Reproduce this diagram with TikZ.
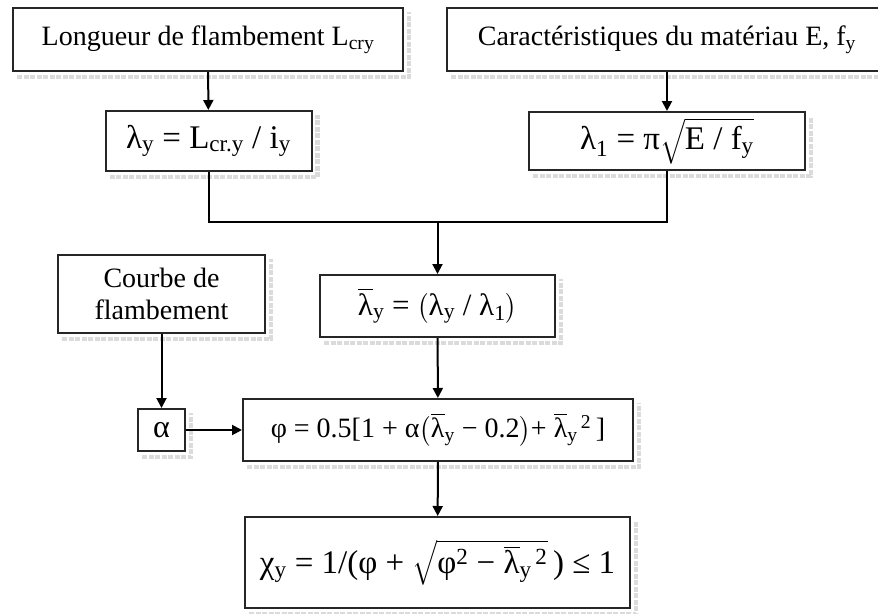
\documentclass[tikz,border=0pt]{standalone}
\usepackage{exscale}
\usepackage{fontspec}
\setmainfont{Liberation Serif}
\usetikzlibrary{arrows.meta}
\newcommand\lbar{$\overline{\mbox{λ}}$}
\newcommand\boxshade[1]{\draw[shadeband] ([xshift=5pt,yshift=-5pt]#1.south west) -- ([xshift=5pt,yshift=-5pt]#1.south east) -- ([xshift=5pt,yshift=-5pt]#1.north east);}

\begin{document}
\begin{tikzpicture}[x=1pt, y=-1pt,
	flowbox/.style={draw=black!85, line width=2pt, fill=white, inner sep=0pt, align=center, font=\fontsize{28}{32}\selectfont},
	shadeband/.style={line width=4.5pt, color=black!14, dash pattern=on 5pt off 1.5pt},
	flowarrow/.style={line width=2pt, -{Triangle[length=10pt,width=10pt]}}]
			%%%%% START %%%%%
			\useasboundingbox (0, 0) rectangle (878, 613);
			
			\node[flowbox, minimum width=390pt, minimum height=63pt] (lcr) at (208, 39.5) {Longueur de flambement L\textsubscript{cry}};
			\node[flowbox, minimum width=440pt, minimum height=63pt] (mat) at (667, 39.5) {Caractéristiques du matériau E, f\textsubscript{y}};
			
			\node[flowbox, minimum width=206pt, minimum height=60pt, font=\fontsize{33}{37}\selectfont] (lamy) at (208.5, 141) {λ\textsubscript{y} = L\textsubscript{cr.y} / i\textsubscript{y}};
			\node[flowbox, minimum width=276pt, minimum height=58pt, font=\fontsize{33}{37}\selectfont] (lam1) at (667, 141) {λ\textsubscript{1} = π$\sqrt{\mbox{E / f\textsubscript{y}}\vphantom{\big(}}$};
			
			\node[flowbox, minimum width=235pt, minimum height=62pt, font=\fontsize{31}{35}\selectfont] (lamb) at (437.5, 306) {\lbar\textsubscript{y} = $\bigl(\mbox{λ\textsubscript{y} / λ\textsubscript{1}}\bigr)$};
			\node[flowbox, minimum width=207pt, minimum height=78pt] (courbe) at (161.5, 294) {Courbe de\\flambement};
			
			\node[flowbox, minimum width=47pt, minimum height=42pt, font=\fontsize{32}{36}\selectfont] (alpha) at (161.5, 430) {α};
			\node[flowbox, minimum width=390pt, minimum height=62pt, font=\fontsize{28}{32}\selectfont] (phi) at (438, 430) {φ = 0.5[1 + α$\bigl(\mbox{\lbar\textsubscript{y} − 0.2}\bigr)$+ \lbar\textsubscript{y}\textsuperscript{\,2}\,]};
			
			\node[flowbox, minimum width=385pt, minimum height=91pt, font=\fontsize{33}{37}\selectfont] (chi) at (437.5, 562.5) {χ\textsubscript{y} = 1/(φ + $\sqrt{\mbox{φ\textsuperscript{2} − \lbar\textsubscript{y}\textsuperscript{\,2}}\vphantom{\big(}}$\,) ≤ 1};
			
			% grey bands under and right of the boxes
			\foreach \b in {lcr, mat, lamy, lam1, lamb, courbe, alpha, phi, chi}
				{\boxshade{\b}}
			
			% connectors
			\coordinate (join) at (437.5, 222);
			\draw[flowarrow] (lcr) -- (lamy);
			\draw[flowarrow] (mat.south -| lam1.north) -- (lam1);
			\draw[line width=2pt] (lamy.south) |- (join) -| (lam1.south);
			\draw[flowarrow] (join) -- (lamb);
			\draw[flowarrow] (courbe) -- (alpha);
			\draw[flowarrow] (alpha) -- (phi);
			\draw[flowarrow] (lamb) -- (phi);
			\draw[flowarrow] (phi) -- (chi);
			
			%%%%% END %%%%%
\end{tikzpicture}
\end{document}
